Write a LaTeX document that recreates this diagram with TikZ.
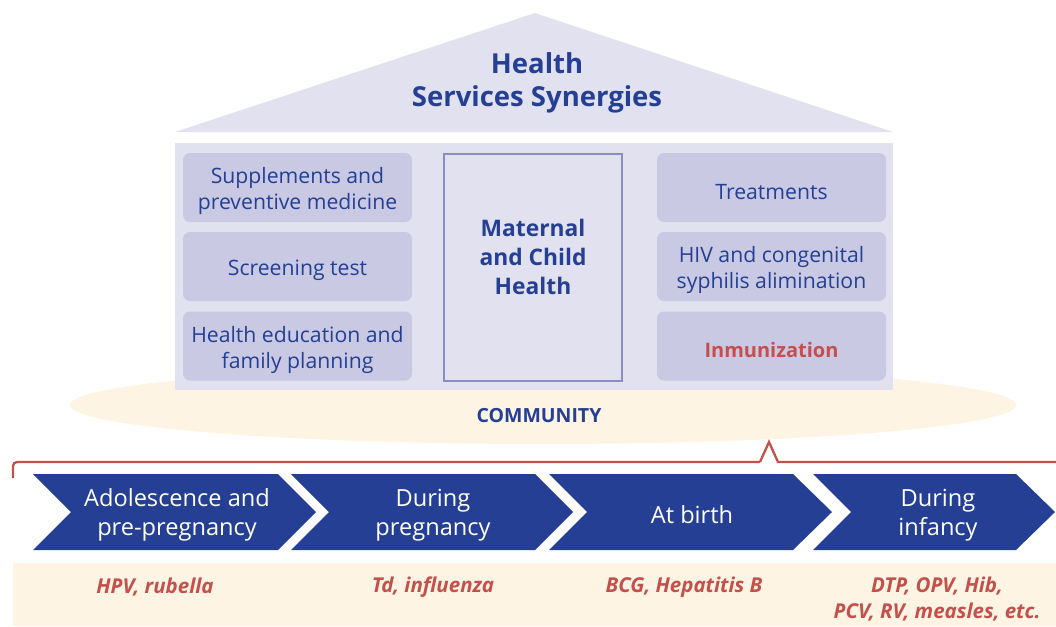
\documentclass[tikz,border=0pt]{standalone}
\usepackage{fontspec}
\setmainfont{Open Sans}
\usetikzlibrary{shapes.geometric}
\definecolor{lav}{HTML}{E1E1EF}
\definecolor{boxc}{HTML}{C9C9E3}
\definecolor{frame}{HTML}{8C8CC4}
\definecolor{navy}{HTML}{243F93}
\definecolor{cream}{HTML}{FDF4E4}
\definecolor{redc}{HTML}{C4504C}
\tikzset{
  sbox/.style={fill=boxc, rounded corners=7pt, minimum width=229pt, minimum height=69pt, inner sep=0pt},
  stext/.style={align=center, text=navy, font=\fontsize{21.2}{26}\selectfont},
  chev/.style={fill=navy},
  chevtext/.style={text=white, align=center, font=\fontsize{23.6}{29}\selectfont},
  vacc/.style={text=redc, align=center, font=\fontsize{20.5}{26}\selectfont\bfseries\itshape},
}
\begin{document}
\begin{tikzpicture}[x=1pt,y=-1pt]
\useasboundingbox (0,0) rectangle (1056,626);
% community ellipse
\node[ellipse, fill=cream, minimum width=946pt, minimum height=78pt, inner sep=0pt] (comm) at (543,405) {};
% roof
\fill[lav] (175,132) -- (535,13) -- (893,132) -- cycle;
\node[text=navy, align=center, font=\fontsize{27.5}{33}\selectfont\bfseries] (title) at (537,83) {Health\\Services Synergies};
% body
\fill[lav] (175,143) rectangle (893,390);
\node[sbox] (b1) at (297.5,187.5) {};
\node[sbox] (b2) at (297.5,266.5) {};
\node[sbox] (b3) at (297.5,346) {};
\node[stext] at (297.5,191) {Supplements and\\preventive medicine};
\node[stext] at (297.5,270) {Screening test};
\node[stext] at (297.5,349.5) {Health education and\\family planning};
\node[draw=frame, line width=2pt, fill=lav, minimum width=178pt, minimum height=227pt, inner sep=0pt] (mch) at (532.5,267) {};
\node[text=navy, align=center, font=\fontsize{22.8}{29}\selectfont\bfseries] (mcht) at (533,257) {Maternal\\and Child\\Health};
\node[sbox] (r1) at (771.5,187.5) {};
\node[sbox] (r2) at (771.5,266.5) {};
\node[sbox] (r3) at (771.5,346) {};
\node[stext] at (771.5,192) {Treatments};
\node[stext] at (771.5,270) {HIV and congenital\\syphilis alimination};
\node[text=redc, font=\fontsize{20}{25}\selectfont\bfseries] at (771.5,350) {Inmunization};
\node[text=navy, font=\fontsize{19.5}{22}\selectfont\bfseries] (commt) at (539,416) {COMMUNITY};
% red bracket
\coordinate (rb0) at (13,478);
\coordinate (rb1) at (13,462);
\coordinate (rb2) at (760,462);
\coordinate (rb3) at (769,442);
\coordinate (rb4) at (778,462);
\coordinate (rb5) at (1056,462);
\draw[redc, line width=2.3pt, rounded corners=4pt] (rb0) -- (rb1) -- (rb2);
\draw[redc, line width=2.3pt] (rb2) -- (rb3) -- (rb4) -- (rb5);
% bottom band
\fill[cream] (13,563) rectangle (1056,626);
% chevrons
\fill[chev] (33,474) -- (278,474) -- (316,512) -- (278,550) -- (33,550) -- (71,512) -- cycle;
\fill[chev] (291,474) -- (535,474) -- (573,512) -- (535,550) -- (291,550) -- (329,512) -- cycle;
\fill[chev] (549,474) -- (793,474) -- (832,512) -- (793,550) -- (549,550) -- (587,512) -- cycle;
\fill[chev] (813,474) -- (1016,474) -- (1055,512) -- (1016,550) -- (813,550) -- (851,512) -- cycle;
\node[chevtext] (c1) at (177,515) {Adolescence and\\pre-pregnancy};
\node[chevtext] (c2) at (433,515) {During\\pregnancy};
\node[chevtext] (c3) at (692,515) {At birth};
\node[chevtext] (c4) at (938,515) {During\\infancy};
% vaccines
\node[vacc] (v1) at (155,587) {HPV, rubella};
\node[vacc] (v2) at (433,587) {Td, influenza};
\node[vacc] (v3) at (684,587) {BCG, Hepatitis B};
\node[vacc] (v4) at (937,599) {DTP, OPV, Hib,\\PCV, RV, measles, etc.};
\end{tikzpicture}
\end{document}
